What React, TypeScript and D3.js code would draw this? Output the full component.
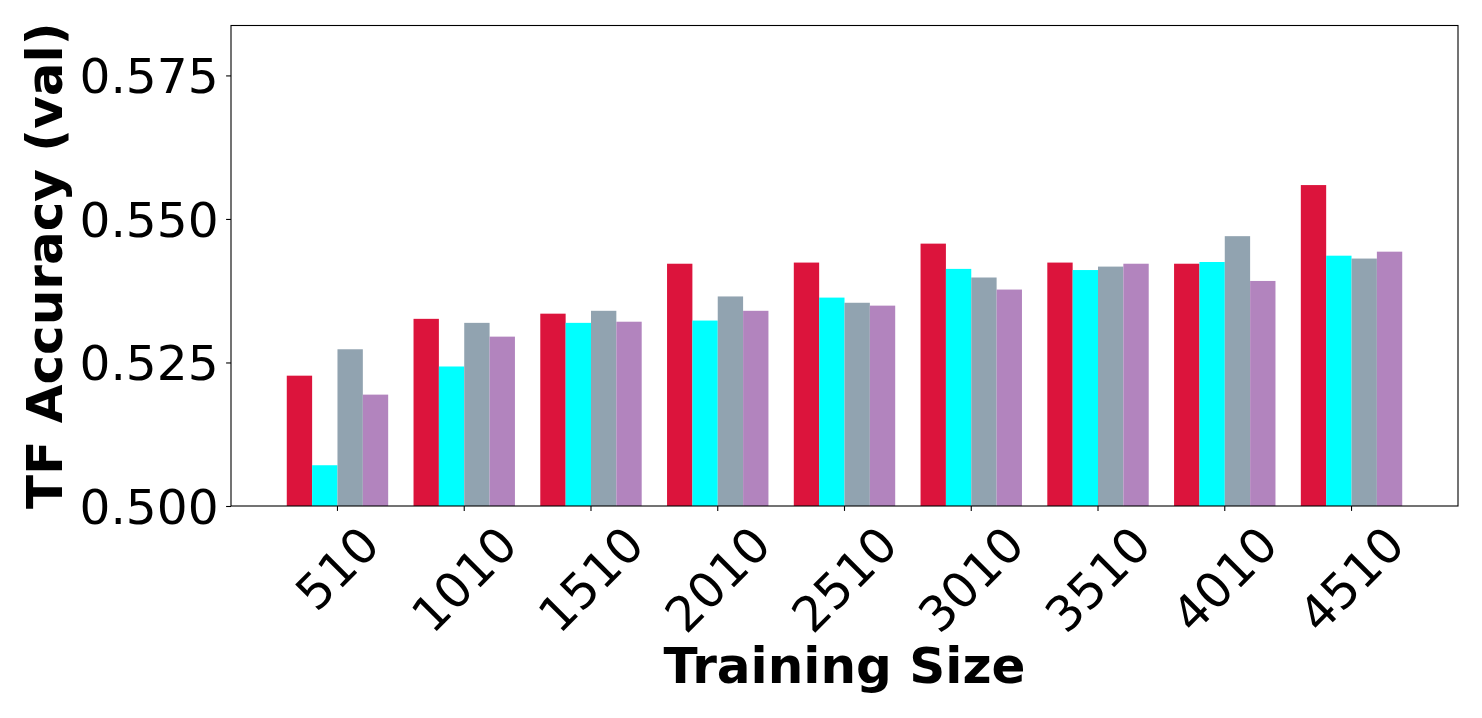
import React, { useEffect, useRef } from 'react';
import * as d3 from 'd3';

// Training sizes (x categories)
const trainingSizes = ['510', '1010', '1510', '2010', '2510', '3010', '3510', '4010', '4510'];

// Validation accuracy per method
const seriesA = [0.5227, 0.5326, 0.5335, 0.5422, 0.5424, 0.5457, 0.5424, 0.5422, 0.5559];
const seriesB = [0.5071, 0.5243, 0.5319, 0.5323, 0.5363, 0.5413, 0.5411, 0.5425, 0.5436];
const seriesC = [0.5273, 0.5319, 0.5340, 0.5365, 0.5354, 0.5398, 0.5417, 0.5470, 0.5431];
const seriesD = [0.5194, 0.5295, 0.5321, 0.5340, 0.5349, 0.5377, 0.5422, 0.5392, 0.5443];

const seriesNames = ['A', 'B', 'C', 'D'];
const seriesColors = ['#DC143C', '#00FFFF', '#91A3B0', '#B284BE'];
const yTicks = [0.5, 0.525, 0.55, 0.575];

const App: React.FC = () => {
  const svgRef = useRef<SVGSVGElement | null>(null);

  useEffect(() => {
    if (!svgRef.current) return;
    const width = 1482;
    const height = 718;
    const margin = { top: 25.5, right: 24, bottom: 212, left: 231 };
    const innerWidth = width - margin.left - margin.right;
    const innerHeight = height - margin.top - margin.bottom;
    const fs = 48.6;
    const labelFs = 50;
    const font = 'DejaVu Sans, sans-serif';

    const svg = d3.select(svgRef.current);
    svg.selectAll('*').remove();
    svg.attr('width', width).attr('height', height);

    svg.append('rect').attr('width', width).attr('height', height).attr('fill', '#fff');

    const g = svg.append('g').attr('transform', `translate(${margin.left},${margin.top})`);

    const allSeries = [seriesA, seriesB, seriesC, seriesD];
    const maxVal = d3.max(allSeries.flat()) as number;

    const x0 = d3.scaleBand<string>()
      .domain(trainingSizes)
      .range([0, innerWidth])
      .paddingInner(0.2)
      .paddingOuter(0.44);

    const x1 = d3.scaleBand<string>()
      .domain(seriesNames)
      .range([0, x0.bandwidth()]);

    const y = d3.scaleLinear()
      .domain([0.5, maxVal * 1.05])
      .range([innerHeight, 0]);

    // Bars
    allSeries.forEach((vals, si) => {
      g.selectAll(`.bar-${si}`)
        .data(vals)
        .enter()
        .append('rect')
        .attr('class', `bar-${si}`)
        .attr('x', (_, i) => (x0(trainingSizes[i]) || 0) + (x1(seriesNames[si]) || 0))
        .attr('y', d => y(d))
        .attr('width', x1.bandwidth())
        .attr('height', d => y(0.5) - y(d))
        .attr('fill', seriesColors[si]);
    });

    // Frame
    g.append('rect')
      .attr('width', innerWidth)
      .attr('height', innerHeight)
      .attr('fill', 'none')
      .attr('stroke', '#000')
      .attr('stroke-width', 1.1);

    // Y axis
    const yAxis = g.append('g')
      .call(d3.axisLeft(y).tickValues(yTicks).tickFormat(d3.format('.3f')).tickSize(4.9).tickPadding(7.5));
    yAxis.select('.domain').remove();
    yAxis.selectAll('line').attr('stroke', '#000').attr('stroke-width', 1.1);
    yAxis.selectAll('text')
      .attr('font-family', font)
      .attr('font-size', fs)
      .attr('fill', '#000')
      .attr('dy', '0.36em');

    // X axis
    const xAxis = g.append('g')
      .attr('transform', `translate(0,${innerHeight})`)
      .call(d3.axisBottom(x0).tickSize(4.9).tickFormat(() => ''));
    xAxis.select('.domain').remove();
    xAxis.selectAll('line').attr('stroke', '#000').attr('stroke-width', 1.1);

    // Rotated x tick labels
    const top = innerHeight + 9.8;
    trainingSizes.forEach(label => {
      const w = label.length * 0.636 * fs;
      const h = 1.164 * fs;
      const half = (w / 2 + h / 2) * Math.SQRT1_2;
      const cx = (x0(label) || 0) + x0.bandwidth() / 2;
      const cy = top + half;
      g.append('text')
        .attr('transform', `translate(${cx},${cy}) rotate(-45)`)
        .attr('text-anchor', 'middle')
        .attr('dy', '0.346em')
        .attr('font-family', font)
        .attr('font-size', fs)
        .attr('fill', '#000')
        .text(label);
    });

    // Axis titles
    svg.append('text')
      .attr('x', margin.left + innerWidth / 2)
      .attr('y', 683)
      .attr('text-anchor', 'middle')
      .attr('font-family', font)
      .attr('font-weight', 'bold')
      .attr('font-size', labelFs)
      .attr('fill', '#000')
      .text('Training Size');

    svg.append('text')
      .attr('transform', `translate(62,${margin.top + innerHeight / 2}) rotate(-90)`)
      .attr('text-anchor', 'middle')
      .attr('font-family', font)
      .attr('font-weight', 'bold')
      .attr('font-size', labelFs)
      .attr('fill', '#000')
      .text('TF Accuracy (val)');
  }, []);

  return <svg ref={svgRef} style={{ position: 'absolute', left: 0, top: 0 }} />;
};

export default App;
